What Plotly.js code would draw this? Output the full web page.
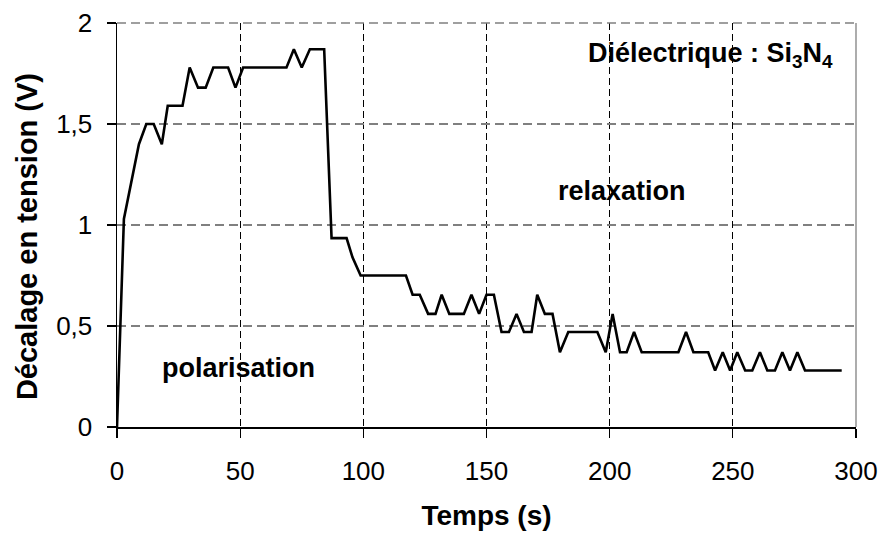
<!DOCTYPE html>
<html>
<head>
<meta charset="utf-8">
<script src="https://cdn.plot.ly/plotly-3.0.1.min.js"></script>
<style>html,body{margin:0;padding:0;background:#fff;}#chart{width:884px;height:533px;}</style>
</head>
<body>
<div id="chart"></div>
<script>
const temps = [0, 2.8, 8.9, 11.9, 14.9, 18.2, 20.6, 26.6, 29.5, 32.9, 36.0, 39.1, 45.1, 48.1, 51.2, 68.8, 71.8, 75.0, 78.3, 84.1, 87.1, 93.2, 95.6, 98.9, 117.3, 120.0, 122.9, 126.3, 129.3, 131.8, 134.9, 140.8, 143.9, 147.0, 150.0, 153.0, 156.1, 159.1, 162.2, 165.2, 168.3, 170.6, 173.7, 176.8, 179.8, 183.2, 195.0, 198.4, 201.2, 204.2, 206.9, 209.9, 213.0, 227.9, 231.0, 234.0, 240.0, 242.8, 245.9, 248.9, 251.8, 255.0, 257.9, 261.0, 264.0, 267.1, 270.1, 273.2, 276.2, 279.3, 294.2];
const decalage = [0, 1.03, 1.40, 1.50, 1.50, 1.40, 1.59, 1.59, 1.78, 1.68, 1.68, 1.78, 1.78, 1.68, 1.78, 1.78, 1.87, 1.78, 1.87, 1.87, 0.935, 0.935, 0.84, 0.75, 0.75, 0.655, 0.655, 0.56, 0.56, 0.655, 0.56, 0.56, 0.655, 0.56, 0.655, 0.655, 0.47, 0.47, 0.56, 0.47, 0.47, 0.655, 0.56, 0.56, 0.37, 0.47, 0.47, 0.37, 0.56, 0.37, 0.37, 0.47, 0.37, 0.37, 0.47, 0.37, 0.37, 0.28, 0.37, 0.28, 0.37, 0.28, 0.28, 0.37, 0.28, 0.28, 0.37, 0.28, 0.37, 0.28, 0.28];
const xTicks = [0, 50, 100, 150, 200, 250, 300];
const yTicks = [0, 0.5, 1, 1.5, 2];
const xTitle = 'Temps (s)';
const yTitle = 'Décalage en tension (V)';
const labelDielectrique = 'Diélectrique : Si<sub>3</sub>N<sub>4</sub>';
const labelRelax = 'relaxation';
const labelPolar = 'polarisation';

const FONT = 'Liberation Sans, Arial, sans-serif';

const trace = {
  x: temps, y: decalage, type: 'scatter', mode: 'lines',
  line: {color: '#000', width: 2.6}, hoverinfo: 'skip', showlegend: false
};

const layout = {
  width: 884, height: 533,
  margin: {l: 117, r: 28, t: 23, b: 106},
  paper_bgcolor: '#fff', plot_bgcolor: '#fff',
  separators: ', ',
  font: {family: FONT, color: '#000', size: 26},
  showlegend: false,
  xaxis: {
    range: [0, 300], tickvals: xTicks, ticks: 'outside', ticklen: 9, tickwidth: 1.2, tickcolor: '#000',
    showline: true, linecolor: '#000', linewidth: 1.5,
    showgrid: true, gridcolor: '#000', gridwidth: 1, griddash: '7px,4px',
    zeroline: false, tickfont: {size: 26}, ticklabelstandoff: 11,
    title: {text: xTitle, font: {size: 28, weight: 'bold'}, standoff: 20},
    automargin: false, fixedrange: true
  },
  yaxis: {
    range: [0, 2], tickvals: yTicks, ticks: 'outside', ticklen: 9, tickwidth: 1.2, tickcolor: '#000',
    showline: true, linecolor: '#000', linewidth: 1.5,
    showgrid: true, gridcolor: '#808080', gridwidth: 1.3, griddash: '9px,5px',
    zeroline: false, tickfont: {size: 26}, ticklabelstandoff: 9,
    automargin: false, fixedrange: true
  },
  yaxis2: {
    overlaying: 'y', anchor: 'x', side: 'left', range: [0, 2], tickvals: yTicks,
    ticks: 'inside', ticklen: 8, tickwidth: 1.2, tickcolor: '#000',
    showticklabels: false, showgrid: false, showline: false, zeroline: false, fixedrange: true
  },
  shapes: [
    {type: 'line', xref: 'paper', yref: 'paper', x0: 1, x1: 1, y0: 0, y1: 1,
     line: {color: '#808080', width: 1.3}},
    {type: 'line', xref: 'paper', yref: 'paper', x0: 0, x1: 1, y0: 1, y1: 1,
     line: {color: '#808080', width: 1.3, dash: '9px,5px'}}
  ],
  annotations: [
    {text: yTitle, textangle: -90, xref: 'paper', x: 0, xshift: -90, xanchor: 'center',
     yref: 'y', y: 0.94, yanchor: 'middle', showarrow: false,
     font: {size: 29, weight: 'bold'}},
    {text: labelDielectrique, x: 241, y: 1.84, xref: 'x', yref: 'y', showarrow: false,
     font: {size: 27, weight: 'bold'}, xanchor: 'center', yanchor: 'middle'},
    {text: labelRelax, x: 205, y: 1.17, xref: 'x', yref: 'y', showarrow: false,
     font: {size: 27, weight: 'bold'}, xanchor: 'center', yanchor: 'middle'},
    {text: labelPolar, x: 49.3, y: 0.29, xref: 'x', yref: 'y', showarrow: false,
     font: {size: 27, weight: 'bold'}, xanchor: 'center', yanchor: 'middle'}
  ]
};

Plotly.newPlot('chart', [trace], layout, {staticPlot: true, displayModeBar: false});
</script>
</body>
</html>
